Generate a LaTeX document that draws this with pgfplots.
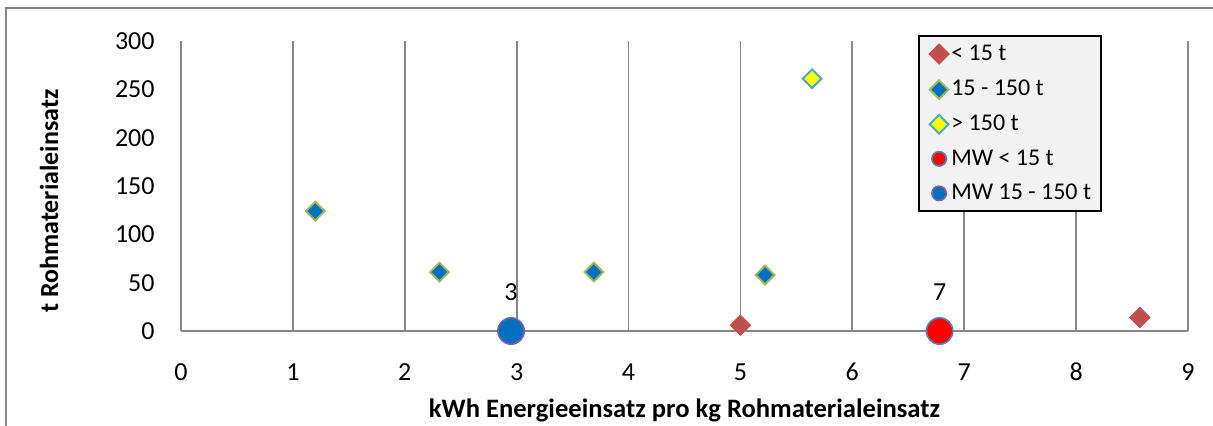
\documentclass[border=0pt]{standalone}
\usepackage{fontspec}
\setmainfont{Carlito}
\usepackage{pgfplots}
\pgfplotsset{compat=1.18}
\definecolor{cRed}{HTML}{C0504D}
\definecolor{cBlue}{HTML}{0070C0}
\definecolor{cGreen}{HTML}{9BBB59}
\definecolor{cCyan}{HTML}{4BACC6}
\definecolor{cYellow}{HTML}{FFFF00}
\definecolor{cMWred}{HTML}{FF0000}
\definecolor{cMWredB}{HTML}{4F81BD}
\definecolor{cPurple}{HTML}{8064A2}
\definecolor{gridgray}{HTML}{878787}
\definecolor{legfill}{HTML}{F2F2F2}
\begin{document}
\begin{tikzpicture}
\useasboundingbox (-90.5pt,-47pt) rectangle (516pt,165.5pt);
\begin{axis}[
  scale only axis, width=503.5pt, height=145pt,
  xmin=0, xmax=9, ymin=0, ymax=300,
  xtick={0,1,...,9}, ytick={0,50,...,300},
  axis x line*=bottom, axis y line*=left,
  xmajorgrids,
  major grid style={color=gridgray, line width=0.9pt},
  axis line style={color=gridgray, line width=0.9pt},
  major tick length=0pt,
  clip=false,
  only marks,
  legend image code/.code={\draw[#1] plot coordinates {(0pt,0pt)};},
  /pgf/number format/assume math mode=true,
  tick label style={font=\fontsize{13}{15}\selectfont},
  yticklabel style={anchor=east, inner sep=0pt, xshift=-13pt},
  xticklabel style={anchor=center, inner sep=0pt, yshift=-20.5pt},
  xlabel={kWh Energieeinsatz pro kg Rohmaterialeinsatz},
  xlabel style={at={(axis description cs:0.5,-0.2724)}, anchor=center, font=\bfseries\fontsize{13.3}{15}\selectfont},
  ylabel={t Rohmaterialeinsatz},
  ylabel style={at={(axis description cs:-0.131,0.448)}, anchor=center, font=\bfseries\fontsize{13}{15}\selectfont},
  legend style={at={(axis description cs:0.7319,1.0207)}, anchor=north west,
    fill=legfill, draw=black, line width=0.9pt, font=\fontsize{12}{14}\selectfont,
    row sep=8pt, column sep=1pt, inner xsep=5pt, inner ysep=4pt,
    nodes={inner sep=0pt}},
  legend cell align=left,
]
\addplot[mark=square*, mark size=3.6pt, mark options={rotate=45, fill=cRed, draw=cRed, line width=0.4pt}]
  coordinates {(5.0,6) (8.57,14)};
\addlegendentry{< 15 t}
\addplot[mark=square*, mark size=3.3pt, mark options={rotate=45, fill=cBlue, draw=cGreen, line width=1pt}]
  coordinates {(1.2,124) (2.31,61) (3.69,61) (5.22,58)};
\addlegendentry{15 - 150 t}
\addplot[mark=square*, mark size=3.3pt, mark options={rotate=45, fill=cYellow, draw=cCyan, line width=1pt}]
  coordinates {(5.64,261)};
\addlegendentry{> 150 t}
\addplot[mark=*, mark size=6.6pt, mark options={fill=cMWred, draw=cMWredB, line width=0.8pt},
  legend image post style={mark size=3.6pt},
  nodes near coords, point meta=explicit symbolic,
  nodes near coords style={anchor=center, yshift=19.5pt, text=black, font=\fontsize{13}{15}\selectfont}]
  coordinates {(6.78,0) [7]};
\addlegendentry{MW < 15 t}
\addplot[mark=*, mark size=6.6pt, mark options={fill=cBlue, draw=cPurple, line width=0.8pt},
  legend image post style={mark size=3.6pt},
  nodes near coords, point meta=explicit symbolic,
  nodes near coords style={anchor=center, yshift=19.5pt, text=black, font=\fontsize{13}{15}\selectfont}]
  coordinates {(2.95,0) [3]};
\addlegendentry{MW 15 - 150 t}
\end{axis}
\draw[color=gridgray, line width=0.75pt] (-87.5pt,161.5pt) rectangle (540pt,-70pt);
\end{tikzpicture}
\end{document}
